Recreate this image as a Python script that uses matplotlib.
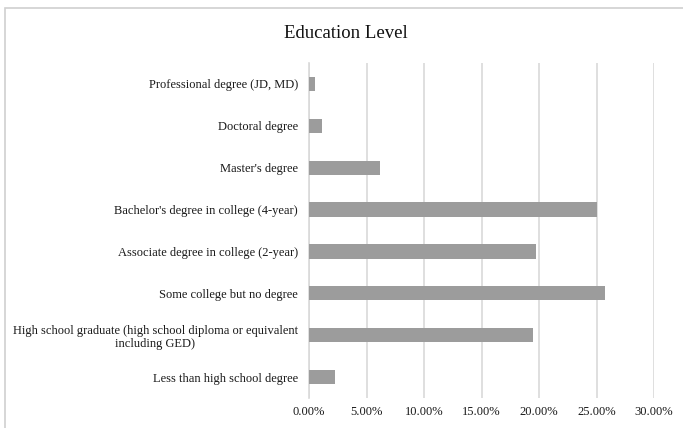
import numpy as np
import matplotlib.pyplot as plt
from matplotlib.ticker import PercentFormatter
from matplotlib.patches import Rectangle

# education categories, bottom to top as drawn
levels = ["Less than high school degree",
          "High school graduate (high school diploma or equivalent\nincluding GED)",
          "Some college but no degree",
          "Associate degree in college (2-year)",
          "Bachelor's degree in college (4-year)",
          "Master's degree",
          "Doctoral degree",
          "Professional degree (JD, MD)"]
shares = [0.0226, 0.195, 0.257, 0.197, 0.250, 0.062, 0.011, 0.005]
xticks = [0.0, 0.05, 0.10, 0.15, 0.20, 0.25, 0.30]

plt.rcParams['font.family'] = ['Liberation Serif', 'DejaVu Serif']

fig = plt.figure(figsize=(6.83, 4.28), dpi=100)
# outer chart border
fig.patches.append(Rectangle((5/683, -0.1), 1.2, 1 - 8/428 + 0.1,
                             transform=fig.transFigure, fill=False,
                             edgecolor='#d0d0d0', linewidth=1.2))

ax = fig.add_axes([309/683, 1 - 398/428, (654 - 309)/683, (398 - 63)/428])
y = np.arange(len(levels))
ax.barh(y, shares, height=0.34, color='#9c9c9c', zorder=3)

ax.set_xlim(0, 0.30)
ax.set_ylim(-0.5, len(levels) - 0.5)
ax.set_xticks(xticks)
ax.xaxis.set_major_formatter(PercentFormatter(1.0, decimals=2))
ax.set_yticks(y)
ax.set_yticklabels(levels, fontsize=9, multialignment='center')
ax.tick_params(axis='both', length=0, colors='#1a1a1a', labelsize=9)
ax.tick_params(axis='y', pad=8)
ax.tick_params(axis='x', pad=6)
ax.grid(axis='x', color='#d9d9d9', linewidth=1.2, zorder=0)
for s in ['top', 'right', 'bottom']:
    ax.spines[s].set_visible(False)
ax.spines['left'].set_color('#d9d9d9')
ax.spines['left'].set_linewidth(1.2)

fig.text(346/683, 1 - 33/428, "Education Level", ha='center', va='center',
         fontsize=13.5, color='#111111')

fig.savefig('out.png', dpi=100)
